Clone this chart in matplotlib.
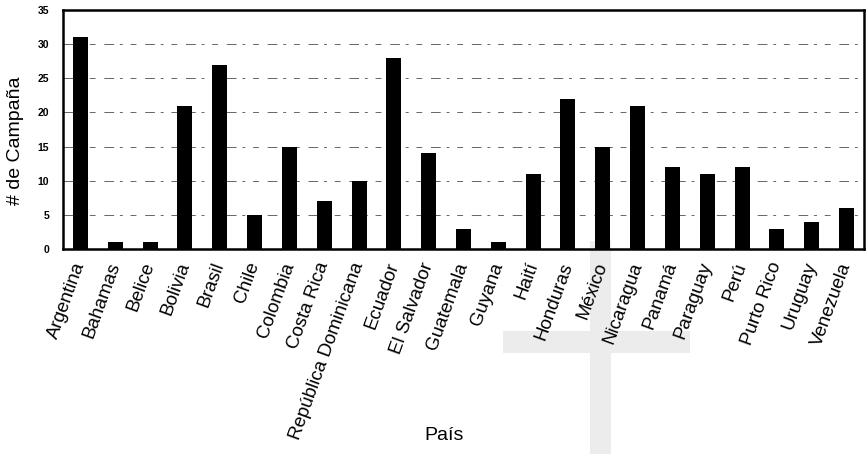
import matplotlib
matplotlib.use("Agg")
import matplotlib.pyplot as plt
from matplotlib.patches import Rectangle

countries = ["Argentina", "Bahamas", "Belice", "Bolivia", "Brasil", "Chile",
             "Colombia", "Costa Rica", "República Dominicana", "Ecuador",
             "El Salvador", "Guatemala", "Guyana", "Haití", "Honduras",
             "México", "Nicaragua", "Panamá", "Paraguay", "Perú",
             "Purto Rico", "Uruguay", "Venezuela"]
values = [31, 1, 1, 21, 27, 5, 15, 7, 10, 28, 14, 3, 1, 11, 22, 15, 21,
          12, 11, 12, 3, 4, 6]
yticks = [0, 5, 10, 15, 20, 25, 30, 35]

plt.rcParams['font.family'] = ['Liberation Sans', 'DejaVu Sans']

W, H = 868, 454
fig = plt.figure(figsize=(W / 100, H / 100), dpi=100)
fig.patch.set_facecolor('white')

# scan artefact (light grey cross)
for (x0, y0, x1, y1) in [(590, 241, 611, 454), (503, 331, 690, 353)]:
    fig.patches.append(Rectangle((x0 / W, 1 - y1 / H), (x1 - x0) / W, (y1 - y0) / H,
                                 transform=fig.transFigure, facecolor='#ececec',
                                 edgecolor='none', zorder=-5))

L, R, T, B = 63, 864, 10, 249
ax = fig.add_axes([L / W, 1 - B / H, (R - L) / W, (B - T) / H])
ax.set_facecolor('none')

x = list(range(len(countries)))
ax.bar(x, values, width=0.43, color='black', zorder=3)
ax.set_xlim(-0.5, len(countries) - 0.5)
ax.set_ylim(0, 35)
ax.set_yticks(yticks)
ax.set_yticklabels([str(t) for t in yticks], fontsize=7.5, fontweight='bold')
ax.set_xticks(x)
ax.set_xticklabels(countries, rotation=70, ha='right', va='center',
                   rotation_mode='anchor', fontsize=13.5)
ax.tick_params(axis='x', length=0, pad=10)
ax.tick_params(axis='y', length=0, pad=10)

for t in yticks[1:-1]:
    ax.axhline(t, color='#666666', lw=0.7, ls=(0, (10, 6, 3, 8, 6, 9)), zorder=1)

for s in ax.spines.values():
    s.set_linewidth(1.8)
    s.set_color('black')

fig.text(15 / W, 1 - 141 / H, "# de Campaña", rotation=90, ha='center', va='center',
         fontsize=14)
fig.text(444 / W, 1 - 435 / H, "País", ha='center', va='center', fontsize=14)

fig.savefig("out.png", dpi=100)
